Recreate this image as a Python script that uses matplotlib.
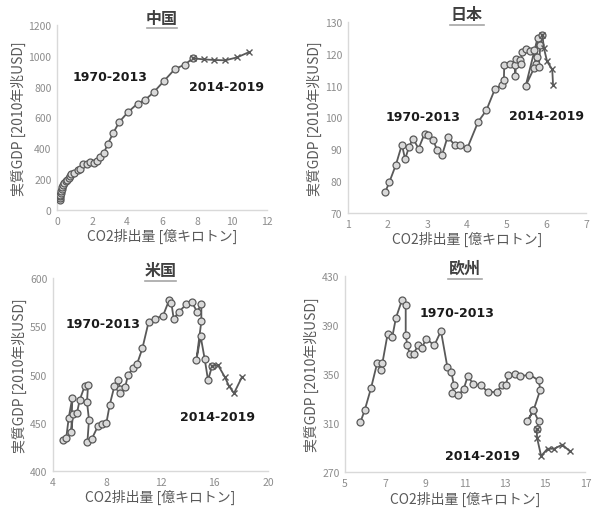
import matplotlib
matplotlib.use("Agg")
import matplotlib.pyplot as plt

plt.rcParams['font.family'] = ['Noto Sans CJK JP', 'DejaVu Sans']

# ---------------- data ----------------
cn_x_a = [0.15, 0.16, 0.17, 0.19, 0.21, 0.23, 0.26, 0.30, 0.36, 0.42, 0.50, 0.58, 0.66, 0.74, 0.80,
          0.98, 1.18, 1.33, 1.47, 1.70, 1.90, 2.10, 2.30, 2.44, 2.67, 2.90, 3.20, 3.56, 4.04,
          4.60, 5.05, 5.52, 6.13, 6.74, 7.30, 7.77]
cn_y_a = [65, 75, 88, 100, 112, 125, 138, 150, 160, 172, 185, 197, 210, 222, 232,
          238, 258, 268, 300, 296, 312, 302, 318, 346, 368, 428, 497, 571, 633,
          690, 716, 763, 839, 915, 943, 984]
cn_x_b = [7.77, 8.38, 9.00, 9.62, 10.29, 10.95]
cn_y_b = [984, 977, 973, 971, 990, 1023]

jp_x_a = [1.94, 2.04, 2.21, 2.36, 2.44, 2.54, 2.64, 2.78, 2.93, 3.03, 3.15, 3.25, 3.37, 3.51,
          3.70, 3.82, 4.01, 4.28, 4.49, 4.71, 4.89, 4.93, 4.94, 5.09, 5.20, 5.22, 5.24, 5.34,
          5.37, 5.38, 5.48, 5.59, 5.69, 5.73, 5.76, 5.78, 5.48, 5.69, 5.81, 5.85, 5.90]
jp_y_a = [76.6, 79.6, 85.2, 91.5, 86.9, 90.8, 93.4, 90.2, 94.9, 94.6, 92.8, 89.7, 88.1, 93.9,
          91.3, 91.3, 90.4, 98.6, 102.3, 109.1, 110.3, 111.7, 116.4, 116.9, 116.4, 112.9, 118.3, 118.0,
          116.9, 120.6, 121.6, 120.9, 121.1, 116.9, 119.0, 125.0, 109.9, 115.5, 115.9, 122.7, 125.8]
jp_x_b = [5.90, 5.94, 6.02, 6.15, 6.17]
jp_y_b = [126.0, 121.8, 117.6, 115.1, 110.3]

us_x_a = [4.74, 4.99, 5.17, 5.44, 5.36, 5.49, 5.79, 5.99, 6.36, 6.61, 6.53, 6.68, 6.56, 6.90,
          7.35, 7.65, 7.97, 8.22, 8.57, 8.84, 9.01, 9.01, 9.38, 9.58, 9.95, 10.25, 10.65, 11.12,
          11.62, 12.19, 12.64, 12.81, 12.98, 13.38, 13.93, 14.35, 14.72, 15.04, 15.04, 14.67,
          14.99, 15.29, 15.54, 15.84]
us_y_a = [432, 434.6, 455, 476, 440, 459, 460.5, 473.7, 488, 489, 471.6, 453, 430, 433.6,
          446.7, 449, 449.5, 468.5, 488, 494.5, 484.8, 480.6, 487.5, 499.3, 506.6, 510.7, 527, 554.7,
          558, 561, 577, 574, 558, 565, 573, 574.7, 565, 573, 555, 515,
          539.4, 516, 494, 509]
us_x_b = [15.84, 16.28, 16.78, 17.10, 17.47, 18.07]
us_y_b = [509, 509.7, 497.6, 488, 480.6, 497.6]

eu_x_a = [5.77, 5.98, 6.30, 6.61, 6.79, 6.87, 7.13, 7.36, 7.54, 7.85, 8.03, 8.03, 8.11, 8.23,
          8.43, 8.64, 8.84, 9.05, 9.46, 9.79, 10.11, 10.31, 10.44, 10.36, 10.66, 10.93, 11.13,
          11.39, 11.79, 12.13, 12.57, 12.85, 13.03, 13.15, 13.48, 13.75, 14.21, 14.67, 14.75,
          14.41, 14.10, 14.41, 14.67, 14.57]
eu_y_a = [310.8, 320.3, 338.6, 359.3, 353.0, 359.3, 382.9, 380.2, 395.7, 410.7, 406.6, 381.6, 373.4, 366.6,
          366.6, 373.4, 371.2, 378.8, 373.4, 385.1, 355.7, 351.6, 340.7, 334.5, 332.6, 338.0, 348.4,
          342.1, 340.7, 335.3, 335.3, 341.3, 340.7, 349.5, 350.3, 348.1, 349.5, 344.8, 337.2,
          320.3, 311.6, 320.3, 311.4, 304.8]
eu_x_b = [14.57, 14.59, 14.79, 15.11, 15.44, 15.85, 16.23]
eu_y_b = [304.8, 297.8, 283.1, 289.0, 289.0, 292.3, 286.9]

titles = ["中国", "日本", "米国", "欧州"]
xlabel = "CO2排出量 [億キロトン]"
ylabel = "実質GDP [2010年兆USD]"
label_a = "1970-2013"
label_b = "2014-2019"

panels = [
    dict(title=titles[0], xa=cn_x_a, ya=cn_y_a, xb=cn_x_b, yb=cn_y_b,
         xlim=(0, 12), xt=[0, 2, 4, 6, 8, 10, 12], ylim=(0, 1200), yt=[0, 200, 400, 600, 800, 1000, 1200],
         rect=[0.0963, 0.5863, 0.3547, 0.3627], la=(0.252, 0.724), lb=(0.805, 0.665)),
    dict(title=titles[1], xa=jp_x_a, ya=jp_y_a, xb=jp_x_b, yb=jp_y_b,
         xlim=(1, 7), xt=[1, 2, 3, 4, 5, 6, 7], ylim=(70, 130), yt=[70, 80, 90, 100, 110, 120, 130],
         rect=[0.5878, 0.5804, 0.4020, 0.3745], la=(0.315, 0.503), lb=(0.834, 0.513)),
    dict(title=titles[2], xa=us_x_a, ya=us_y_a, xb=us_x_b, yb=us_y_b,
         xlim=(4, 20), xt=[4, 8, 12, 16, 20], ylim=(400, 600), yt=[400, 450, 500, 550, 600],
         rect=[0.0895, 0.0745, 0.3632, 0.3784], la=(0.233, 0.762), lb=(0.763, 0.285)),
    dict(title=titles[3], xa=eu_x_a, ya=eu_y_a, xb=eu_x_b, yb=eu_y_b,
         xlim=(5, 17), xt=[5, 7, 9, 11, 13, 15, 17], ylim=(270, 430), yt=[270, 310, 350, 390, 430],
         rect=[0.5828, 0.0725, 0.4060, 0.3843], la=(0.467, 0.816), lb=(0.570, 0.082)),
]

line_c = "#595959"
face_c = "#d9d9d9"
tick_c = "#8c8c8c"
spine_c = "#d9d9d9"

fig = plt.figure(figsize=(5.92, 5.10), dpi=100)

for p in panels:
    ax = fig.add_axes(p["rect"])
    ax.plot(p["xa"], p["ya"], color=line_c, lw=1.3, marker="o", ms=5,
            mfc=face_c, mec=line_c, mew=0.9, zorder=3)
    ax.plot(p["xb"], p["yb"], color=line_c, lw=1.3, marker="x", ms=4,
            mec=line_c, mew=1.0, zorder=4)
    ax.set_xlim(*p["xlim"])
    ax.set_ylim(*p["ylim"])
    ax.set_xticks(p["xt"])
    ax.set_yticks(p["yt"])
    ax.tick_params(length=0, labelsize=7.5, colors=tick_c, pad=4)
    for s in ["top", "right"]:
        ax.spines[s].set_visible(False)
    for s in ["left", "bottom"]:
        ax.spines[s].set_color(spine_c)
        ax.spines[s].set_linewidth(1.0)
    ax.set_xlabel(xlabel, fontsize=10, color="#595959", labelpad=2)
    ax.set_ylabel(ylabel, fontsize=10, color="#595959", labelpad=2)
    ax.text(0.5, 1.04, p["title"], transform=ax.transAxes, ha="center", va="center",
            fontsize=11.5, fontweight="bold", color="#404040")
    ax.plot([0.43, 0.57], [0.985, 0.985], transform=ax.transAxes, color="#a6a6a6",
            lw=1.2, clip_on=False)
    ax.text(p["la"][0], p["la"][1], label_a, transform=ax.transAxes, ha="center", va="center",
            fontsize=9, fontweight="bold", color="#1a1a1a", family=["DejaVu Sans"])
    ax.text(p["lb"][0], p["lb"][1], label_b, transform=ax.transAxes, ha="center", va="center",
            fontsize=9, fontweight="bold", color="#1a1a1a", family=["DejaVu Sans"])

fig.savefig("out.png", dpi=100)
